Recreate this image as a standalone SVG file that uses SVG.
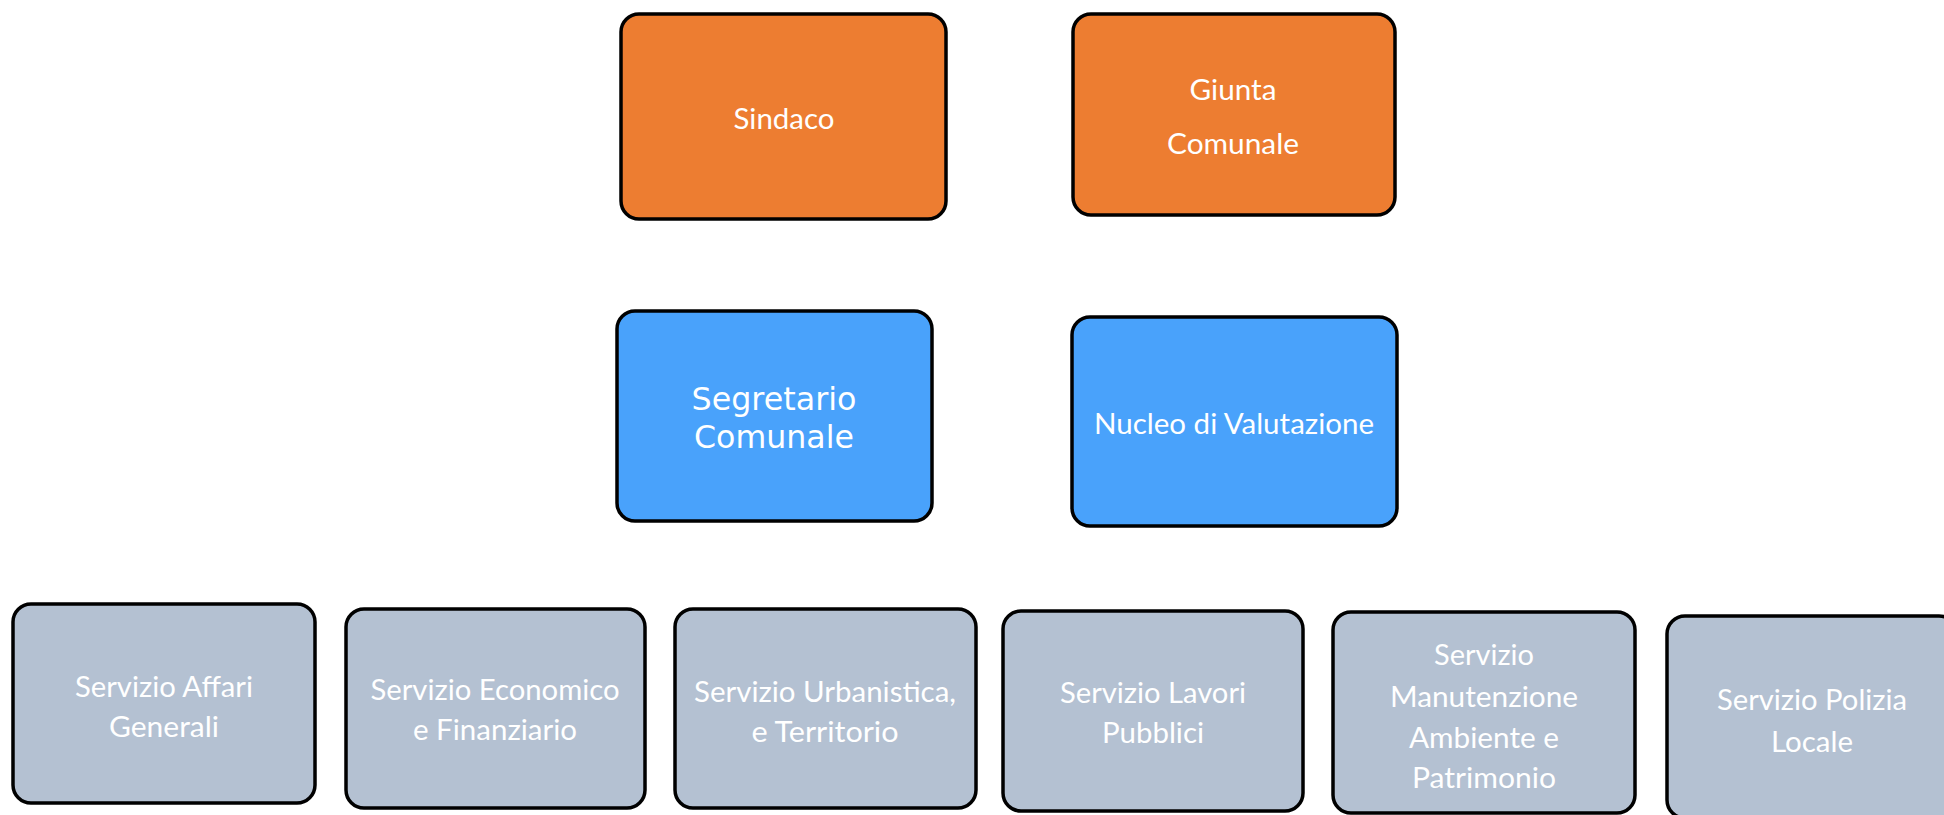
<svg xmlns="http://www.w3.org/2000/svg" width="1944" height="815" viewBox="0 0 1944 815">
<style>
.box{stroke:#000;stroke-width:3.5}
.org{fill:#ED7D31}
.blu{fill:#49A2FB}
.gry{fill:#B4C1D2}
.t{font-family:Lato,"Open Sans","Liberation Sans",sans-serif;font-size:29px;fill:#fff;text-anchor:middle}
.d{font-family:"DejaVu Sans",sans-serif;font-size:32px;fill:#fff;text-anchor:middle}
</style>
<rect width="1944" height="815" fill="#fff"/>
<g id="connectors"/>
<g id="sindaco">
<rect class="box org" x="621" y="14" width="325" height="205" rx="18"/>
<text class="t" x="784" y="129" textLength="101" lengthAdjust="spacingAndGlyphs">Sindaco</text>
</g>
<g id="giunta">
<rect class="box org" x="1073" y="14" width="322" height="201" rx="18"/>
<text class="t" x="1233" y="100" textLength="87" lengthAdjust="spacingAndGlyphs">Giunta</text>
<text class="t" x="1233" y="154" textLength="132" lengthAdjust="spacingAndGlyphs">Comunale</text>
</g>
<g id="segretario">
<rect class="box blu" x="617" y="311" width="315" height="210" rx="18"/>
<text class="d" x="774" y="410" textLength="165" lengthAdjust="spacingAndGlyphs">Segretario</text>
<text class="d" x="774" y="448" textLength="160" lengthAdjust="spacingAndGlyphs">Comunale</text>
</g>
<g id="nucleo">
<rect class="box blu" x="1072" y="317" width="325" height="209" rx="18"/>
<text class="t" x="1234" y="434" textLength="280" lengthAdjust="spacingAndGlyphs">Nucleo di Valutazione</text>
</g>
<g id="affari">
<rect class="box gry" x="13" y="604" width="302" height="199" rx="18"/>
<text class="t" x="164" y="697" textLength="178" lengthAdjust="spacingAndGlyphs">Servizio Affari</text>
<text class="t" x="164" y="737" textLength="110" lengthAdjust="spacingAndGlyphs">Generali</text>
</g>
<g id="economico">
<rect class="box gry" x="346" y="609" width="299" height="199" rx="18"/>
<text class="t" x="495" y="700" textLength="249" lengthAdjust="spacingAndGlyphs">Servizio Economico</text>
<text class="t" x="495" y="740" textLength="164" lengthAdjust="spacingAndGlyphs">e Finanziario</text>
</g>
<g id="urbanistica">
<rect class="box gry" x="675" y="609" width="301" height="199" rx="18"/>
<text class="t" x="825" y="702" textLength="262" lengthAdjust="spacingAndGlyphs">Servizio Urbanistica,</text>
<text class="t" x="825" y="742" textLength="147" lengthAdjust="spacingAndGlyphs">e Territorio</text>
</g>
<g id="lavori">
<rect class="box gry" x="1003" y="611" width="300" height="200" rx="18"/>
<text class="t" x="1153" y="703" textLength="186" lengthAdjust="spacingAndGlyphs">Servizio Lavori</text>
<text class="t" x="1153" y="743" textLength="102" lengthAdjust="spacingAndGlyphs">Pubblici</text>
</g>
<g id="manutenzione">
<rect class="box gry" x="1333" y="612" width="302" height="201" rx="18"/>
<text class="t" x="1484" y="665" textLength="100" lengthAdjust="spacingAndGlyphs">Servizio</text>
<text class="t" x="1484" y="707" textLength="188" lengthAdjust="spacingAndGlyphs">Manutenzione</text>
<text class="t" x="1484" y="748" textLength="150" lengthAdjust="spacingAndGlyphs">Ambiente e</text>
<text class="t" x="1484" y="788" textLength="144" lengthAdjust="spacingAndGlyphs">Patrimonio</text>
</g>
<g id="polizia">
<rect class="box gry" x="1667" y="616" width="290" height="202" rx="18"/>
<text class="t" x="1812" y="710" textLength="190" lengthAdjust="spacingAndGlyphs">Servizio Polizia</text>
<text class="t" x="1812" y="752" textLength="82" lengthAdjust="spacingAndGlyphs">Locale</text>
</g>
</svg>
